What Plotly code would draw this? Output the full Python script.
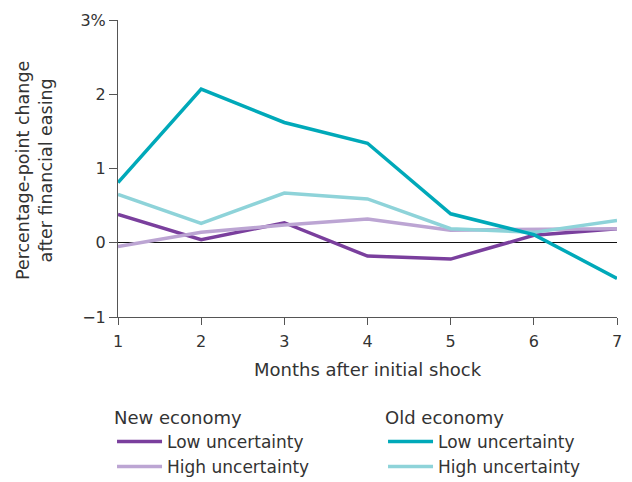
import plotly.graph_objects as go

months = [1, 2, 3, 4, 5, 6, 7]
new_low = [0.38, 0.04, 0.27, -0.18, -0.22, 0.10, 0.19]
new_high = [-0.05, 0.14, 0.24, 0.32, 0.17, 0.18, 0.19]
old_low = [0.81, 2.07, 1.62, 1.34, 0.39, 0.11, -0.48]
old_high = [0.65, 0.26, 0.67, 0.59, 0.19, 0.14, 0.30]

y_ticks = [-1, 0, 1, 2, 3]
y_tick_labels = ["−1", "0", "1", "2", "3%"]
x_title = "Months after initial shock"
y_title = "Percentage-point change<br>after financial easing"

C_NEW_LOW = "#7A3F9D"
C_NEW_HIGH = "#BCA5D3"
C_OLD_LOW = "#00A9B9"
C_OLD_HIGH = "#8ED3D9"
FONT = "DejaVu Sans, Open Sans, sans-serif"
TXT = "#333333"

fig = go.Figure()
series = [
    ("Low uncertainty", new_low, C_NEW_LOW, "legend"),
    ("High uncertainty", new_high, C_NEW_HIGH, "legend"),
    ("High uncertainty", old_high, C_OLD_HIGH, "legend2"),
    ("Low uncertainty", old_low, C_OLD_LOW, "legend2"),
]
for name, vals, col, lg in series:
    fig.add_trace(go.Scatter(x=months, y=vals, mode="lines", name=name,
                             line=dict(color=col, width=3.5), legend=lg))

# page body has an 8px margin: figure is offset by (8, 8)
fig.update_layout(
    width=624, height=474,
    margin=dict(l=110, r=15, t=12, b=165, autoexpand=False),
    paper_bgcolor="white", plot_bgcolor="white",
    font=dict(family=FONT, size=16, color=TXT),
    xaxis=dict(range=[1, 7], tickvals=months, showgrid=False, zeroline=False,
               automargin=False,
               showline=True, linecolor="#555555", linewidth=1,
               ticks="outside", ticklen=7, tickcolor="#555555",
               ticklabelstandoff=3,
               tickfont=dict(size=16, color=TXT)),
    yaxis=dict(range=[-1, 3], tickvals=y_ticks, ticktext=y_tick_labels,
               automargin=False,
               showgrid=False, zeroline=True, zerolinecolor="#111111", zerolinewidth=1,
               showline=True, linecolor="#555555", linewidth=1,
               ticks="outside", ticklen=8, tickcolor="#555555",
               tickfont=dict(size=16, color=TXT)),
    annotations=[
        dict(text=x_title, xref="paper", yref="paper", x=0.5, y=-0.178,
             xanchor="center", yanchor="middle", showarrow=False,
             font=dict(size=18, color=TXT)),
        dict(text=y_title, xref="paper", yref="paper", x=-0.166, y=0.492,
             xanchor="center", yanchor="middle", showarrow=False, textangle=-90,
             font=dict(size=17.5, color=TXT)),
    ],
    legend=dict(title=dict(text="New economy", font=dict(size=18, color=TXT)),
                xref="container", yref="container",
                x=0.1667, xanchor="left", y=0.172, yanchor="top",
                itemwidth=45,
                traceorder="normal", font=dict(size=17, color=TXT),
                bgcolor="rgba(0,0,0,0)", tracegroupgap=0),
    legend2=dict(title=dict(text="Old economy", font=dict(size=18, color=TXT)),
                 xref="container", yref="container",
                 x=0.601, xanchor="left", y=0.172, yanchor="top",
                 itemwidth=45,
                 traceorder="reversed", font=dict(size=17, color=TXT),
                 bgcolor="rgba(0,0,0,0)", tracegroupgap=0),
)

fig.write_html("out.html")
